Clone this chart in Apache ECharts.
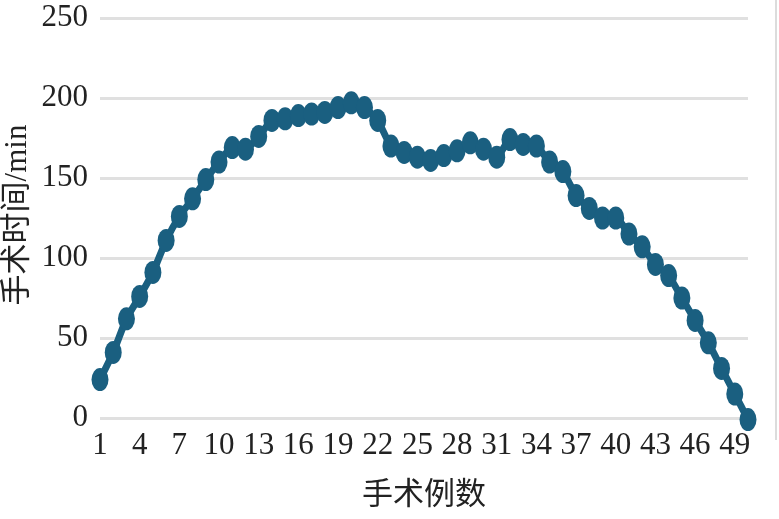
<!DOCTYPE html>
<html>
<head>
<meta charset="utf-8">
<script src="https://cdn.jsdelivr.net/npm/echarts@6/dist/echarts.min.js"></script>
<style>html,body{margin:0;padding:0;background:#fff;}#c{width:779px;height:519px;}</style>
</head>
<body>
<div id="c"></div>
<script>
var categories = [];
for (var i = 1; i <= 50; i++) categories.push(String(i));
var durations = [24, 41, 62, 76, 91, 111, 126, 137, 149, 160,
                 169, 168, 176, 186, 187, 189, 190, 191, 194, 197,
                 194, 186, 170, 166, 163, 161, 164, 167, 172, 168,
                 163, 174, 171, 170, 160, 154, 139, 131, 125, 125,
                 115, 107, 96, 89, 75, 61, 47, 31, 15, -1];
var yTicks = { min: 0, max: 250, interval: 50 };
var yName = '手术时间/min';
var xName = '手术例数';

var font = '"Liberation Serif", "Times New Roman", "Noto Sans CJK SC", serif';
var chart = echarts.init(document.getElementById('c'));
chart.setOption({
  animation: false,
  grid: { left: 100, right: 31, top: 18, bottom: 101, containLabel: false, outerBoundsMode: 'none' },
  xAxis: {
    type: 'category',
    data: categories,
    boundaryGap: false,
    name: xName,
    nameLocation: 'middle',
    nameGap: 62,
    nameTextStyle: { fontFamily: font, fontSize: 31, color: '#222' },
    axisLine: { show: false },
    axisTick: { show: false },
    axisLabel: { interval: 2, fontFamily: font, fontSize: 31, color: '#222', margin: 12 }
  },
  yAxis: {
    type: 'value',
    min: yTicks.min, max: yTicks.max, interval: yTicks.interval,
    axisLine: { show: false },
    axisTick: { show: false },
    axisLabel: { fontFamily: font, fontSize: 31, color: '#222', margin: 12 },
    splitLine: { lineStyle: { color: '#e0e0e0', width: 3 } }
  },
  graphic: [{
    type: 'line',
    shape: { x1: 776, y1: 0, x2: 776, y2: 440 },
    style: { stroke: '#dcdcdc', lineWidth: 2 }
  }, {
    type: 'text',
    x: 18,
    y: 215,
    rotation: Math.PI / 2,
    style: {
      text: yName,
      font: '31px ' + font,
      fill: '#222',
      align: 'center',
      verticalAlign: 'middle'
    }
  }],
  series: [{
    type: 'line',
    data: durations,
    smooth: 0.2,
    clip: false,
    showAllSymbol: true,
    symbol: 'circle',
    symbolSize: [17, 23],
    lineStyle: { color: '#1a5f80', width: 7 },
    itemStyle: { color: '#1a5f80' }
  }]
});
</script>
</body>
</html>
